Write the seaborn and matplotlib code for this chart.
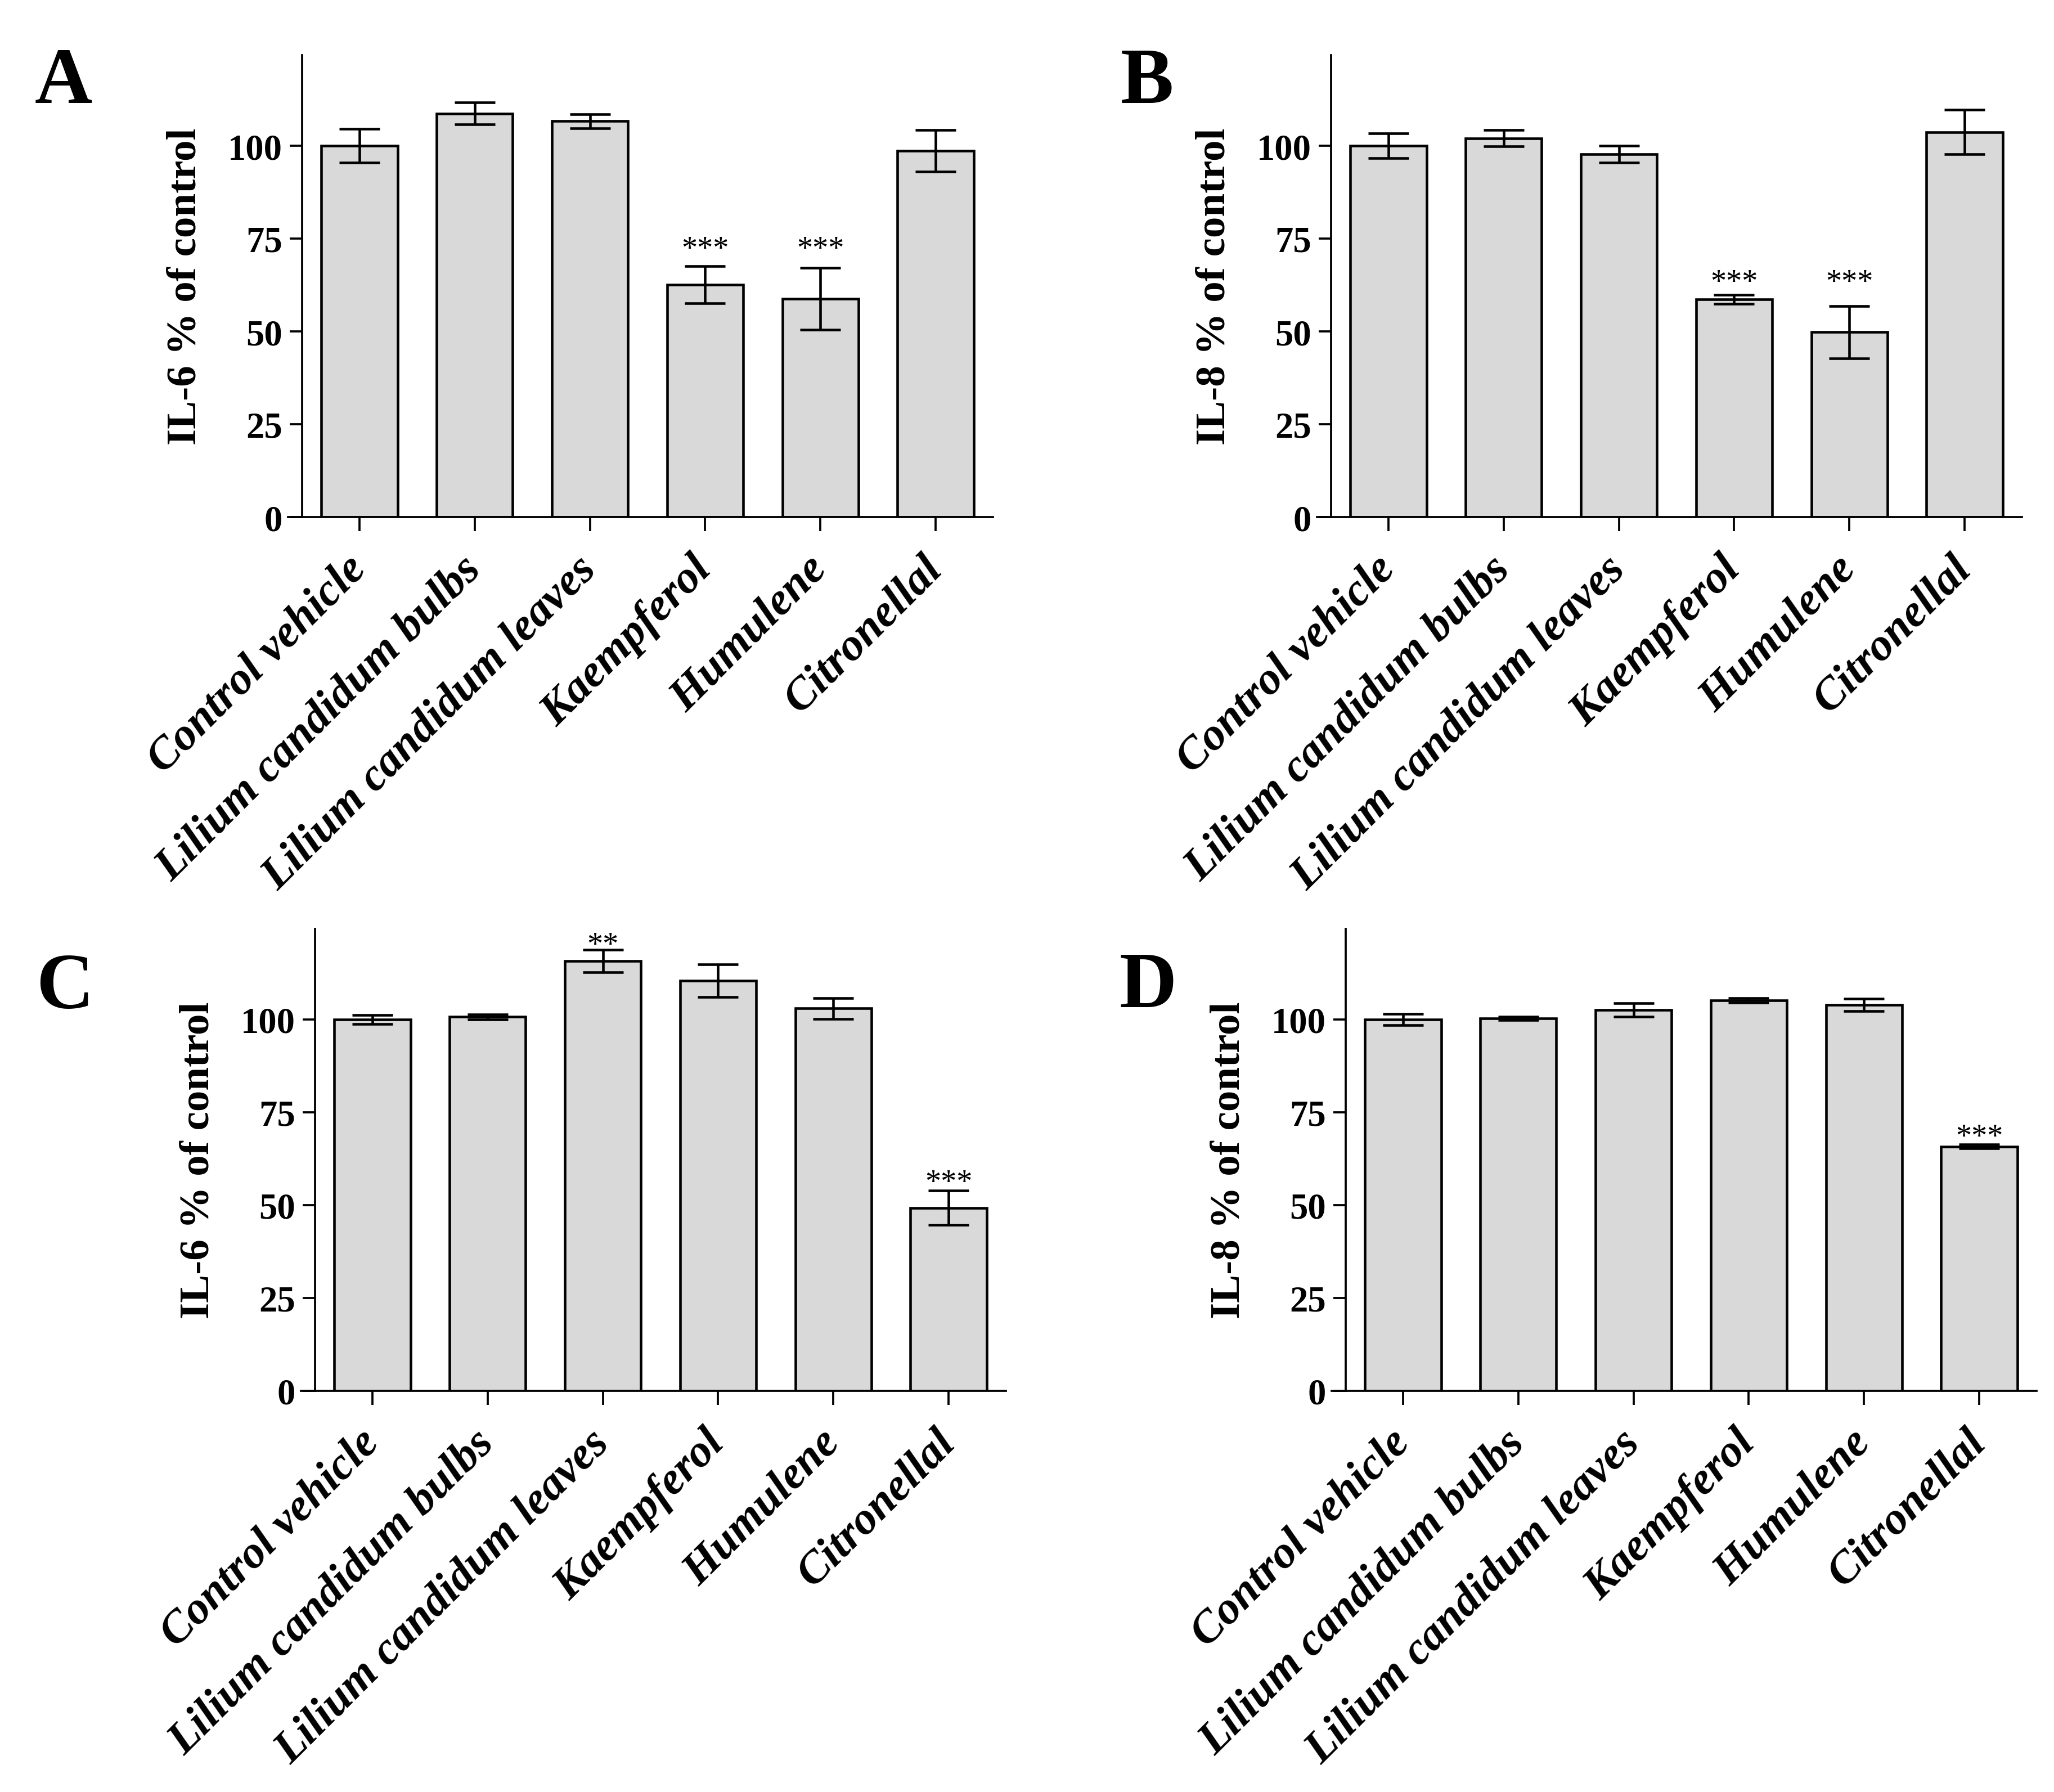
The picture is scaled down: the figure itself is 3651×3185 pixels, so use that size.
import pandas as pd
import seaborn as sns
import matplotlib.pyplot as plt

categories = ["Control vehicle", "Lilium candidum bulbs", "Lilium candidum leaves",
              "Kaempferol", "Humulene", "Citronellal"]

il6_a_mean = [100.0, 108.7, 106.6, 62.6, 58.8, 98.7]
il6_a_sem = [4.6, 2.9, 1.9, 5.0, 8.3, 5.6]
il8_b_mean = [100.0, 102.0, 97.7, 58.7, 49.8, 103.7]
il8_b_sem = [3.3, 2.2, 2.3, 1.2, 7.0, 6.0]
il6_c_mean = [100.0, 100.7, 115.8, 110.4, 103.0, 49.3]
il6_c_sem = [1.2, 0.7, 3.0, 4.4, 2.8, 4.6]
il8_d_mean = [100.0, 100.3, 102.6, 105.1, 103.9, 65.8]
il8_d_sem = [1.5, 0.5, 1.8, 0.6, 1.7, 0.5]

# significance marks: bar index -> (label, height of the mark)
sig_a = {3: ("***", 74.6), 4: ("***", 74.6)}
sig_b = {3: ("***", 65.7), 4: ("***", 65.7)}
sig_c = {2: ("**", 122.5), 5: ("***", 58.6)}
sig_d = {5: ("***", 70.9)}

yticks = [0, 25, 50, 75, 100]

W, H = 3651, 3186
SP = 204.8      # px between bars
YPX = 6.6       # px per y unit
YTOP = 124.4

sns.set_style("ticks", rc={"axes.edgecolor": "black", "text.color": "black",
                           "axes.labelcolor": "black", "xtick.color": "black",
                           "ytick.color": "black"})
plt.rcParams["font.family"] = "Liberation Serif"

fig = plt.figure(figsize=(W / 300, H / 300), dpi=300)

panels = [
    ("A", il6_a_mean, il6_a_sem, "IL-6 % of control", sig_a, 639, 920, (62, 183)),
    ("B", il8_b_mean, il8_b_sem, "IL-8 % of control", sig_b, 2468, 920, (1992, 183)),
    ("C", il6_c_mean, il6_c_sem, "IL-6 % of control", sig_c, 662, 2473, (64, 1792)),
    ("D", il8_d_mean, il8_d_sem, "IL-8 % of control", sig_d, 2494, 2473, (1989, 1790)),
]

for letter, mean, sem, ylab, sig, tick0, base, lpos in panels:
    ax = fig.add_axes([(tick0 - 0.62 * SP) / W, 1 - base / H,
                       6.12 * SP / W, YTOP * YPX / H])
    df = pd.DataFrame({"group": categories, "value": mean})
    sns.barplot(data=df, x="group", y="value", order=categories, color="#d9d9d9",
                saturation=1, width=0.66, edgecolor="black", linewidth=1.1,
                errorbar=None, ax=ax)
    ax.errorbar(range(len(categories)), mean, yerr=sem, fmt="none", ecolor="black",
                elinewidth=1.1, capsize=8.6, capthick=1.1, zorder=3)

    for i, (s, y) in sig.items():
        ax.annotate(s, (i, y), xytext=(0, -0.56 * 13.5), textcoords="offset points",
                    ha="center", va="baseline", fontsize=13.5)

    ax.set_xlim(-0.62, 5.5)
    ax.set_ylim(0, YTOP)
    ax.set_yticks(yticks)
    ax.spines["top"].set_visible(False)
    ax.spines["right"].set_visible(False)
    ax.spines["left"].set_position(("data", -0.5))
    ax.spines["left"].set_linewidth(0.9)
    ax.spines["bottom"].set_linewidth(0.9)

    ax.tick_params(axis="x", direction="out", length=6, width=0.9, pad=13.5)
    ax.tick_params(axis="y", direction="out", length=5.3, width=0.9, pad=3, labelsize=15.5)
    for t in ax.get_yticklabels():
        t.set_fontweight("bold")
    ax.set_xticks(range(len(categories)))
    ax.set_xticklabels(categories, rotation=45, ha="right", va="center",
                       rotation_mode="anchor", fontsize=19.5, fontweight="bold",
                       fontstyle="italic")
    ax.set_xlabel("")
    ax.set_ylabel(ylab, fontsize=18, fontweight="bold", labelpad=10)

    fig.text(lpos[0] / W, 1 - lpos[1] / H, letter, fontsize=34, fontweight="bold",
             ha="left", va="baseline")

fig.savefig("out.png", dpi=300)
